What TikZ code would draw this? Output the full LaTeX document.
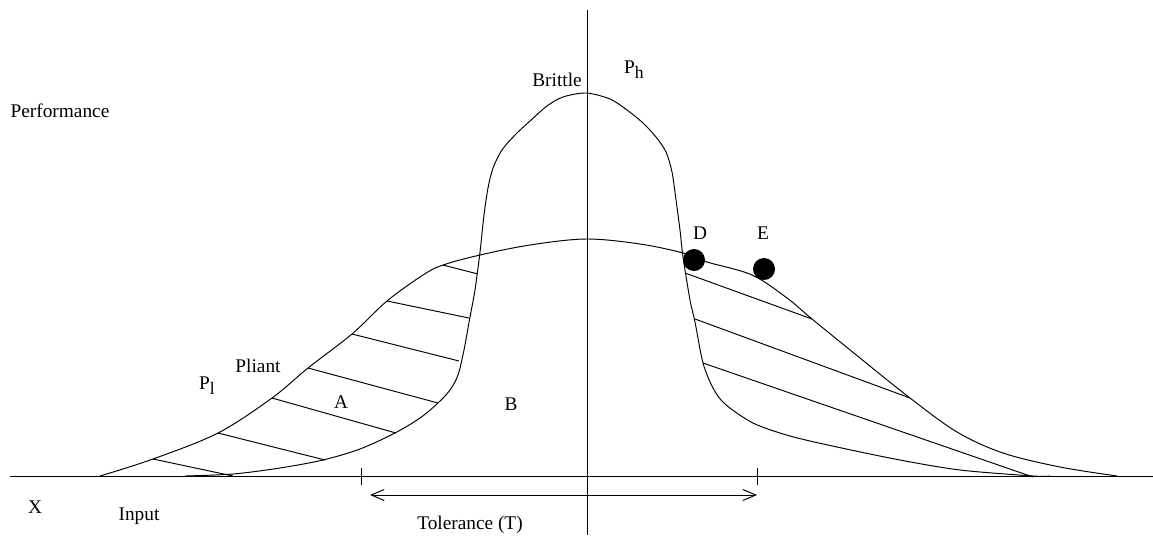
\documentclass[tikz,border=0pt]{standalone}
\usepackage{fontspec}
\setmainfont{Liberation Serif}
\usetikzlibrary{arrows.meta}
\tikzset{
    curveline/.style={line width=0.55pt, black},
    hatchline/.style={line width=0.55pt, black},
    lbl/.style={font=\fontsize{11}{13}\selectfont, inner sep=0pt},
    bullet/.style={fill=black}
}
\newcommand{\sbs}[2]{#1\raisebox{-0.55ex}{\fontsize{10}{12}\selectfont #2}}

\begin{document}
\begin{tikzpicture}[x=0.02cm, y=-0.02cm]
    \useasboundingbox (0,0) rectangle (1153,535);

    % Axes
    \draw[curveline] (10,476) -- (1153,476);
    \draw[curveline] (587,10) -- (587,535);

    % Tolerance ticks and arrow
    \draw[curveline] (361,468) -- (361,485);
    \draw[curveline] (757,468) -- (757,485);
    \draw[curveline, {Straight Barb[length=2.6mm,width=2.2mm]}-{Straight Barb[length=2.6mm,width=2.2mm]}] (370,495) -- (757,495);

    % Brittle curve
    \draw[curveline] plot[smooth, tension=0.5] coordinates {
        (185,476) (233,474) (280,468) (323,460) (360,449) (395,433) (420,418)
        (438,403) (450,390) (458,375) (464,350) (470,317) (475,290) (480,252)
        (484,215) (488,188) (493,168) (502,150) (515,135) (530,121) (547,106)
        (563,97) (586,93) (610,99) (627,110) (643,123) (656,137) (666,152)
        (672,172) (676,200) (680,230) (683,257) (690,300) (695,322)
        (703,363) (713,388) (725,404) (753,423) (790,436) (837,447) (900,460)
        (960,470) (1033,476) (1050,476)};

    % Pliant curve
    \draw[curveline] plot[smooth, tension=0.55] coordinates {
        (100,476) (153,459) (218,433) (272,398) (308,368) (352,334) (387,301)
        (423,275) (443,265) (480,255) (530,245) (586,239) (640,244) (683,253)
        (707,262) (752,275) (787,298) (812,319) (860,358) (910,398) (957,432)
        (1003,453) (1060,467) (1117,476)};

    % Hatching, left region (A)
    \foreach \xa/\ya/\xb/\yb in {153/459/233/476, 218/433/325/460, 272/398/396/433,
        308/368/438/403, 352/334/459/361, 387/301/469/318, 443/265/478/274} {
        \draw[hatchline] (\xa,\ya) -- (\xb,\yb);
    }

    % Hatching, right region
    \foreach \xa/\ya/\xb/\yb in {685/273/812/319, 695/319/910/398, 703/363/1033/477} {
        \draw[hatchline] (\xa,\ya) -- (\xb,\yb);
    }

    % Points D and E
    \fill[bullet] (694,260) circle (11);
    \fill[bullet] (764,269) circle (11);

    % Labels
    \node[lbl] (perf) at (60,111) {Performance};
    \node[lbl] (brittle) at (557,80) {Brittle};
    \node[lbl] (ph) at (634,70) {\sbs{P}{h}};
    \node[lbl] (ptD) at (700,233) {D};
    \node[lbl] (ptE) at (763,233) {E};
    \node[lbl] (pliant) at (258,366) {Pliant};
    \node[lbl] (pl) at (207,386) {\sbs{P}{l}};
    \node[lbl] (regA) at (341,402) {A};
    \node[lbl] (regB) at (511,404) {B};
    \node[lbl] (xlbl) at (35,507) {X};
    \node[lbl] (input) at (139,516) {Input};
    \node[lbl] (tol) at (470,525) {Tolerance (T)};
\end{tikzpicture}
\end{document}
